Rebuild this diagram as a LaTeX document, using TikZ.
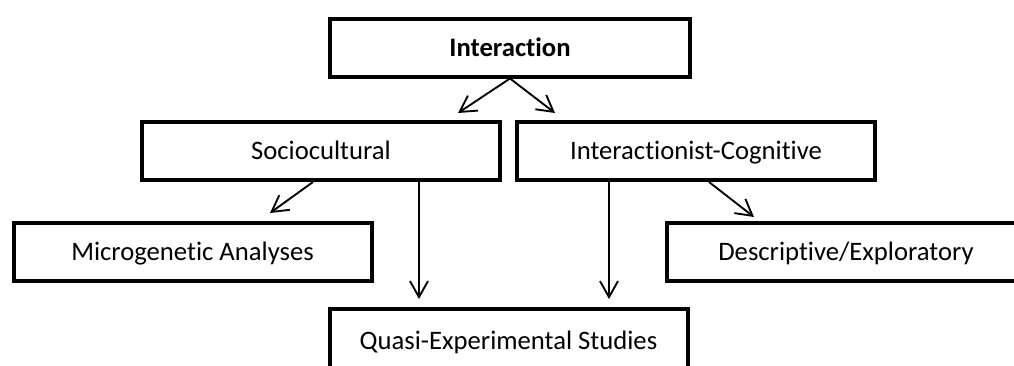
\documentclass[tikz,border=0pt]{standalone}
\usepackage{fontspec}
\setmainfont{Carlito}[RawFeature=-liga]
\usetikzlibrary{positioning,arrows.meta}

\begin{document}
\begin{tikzpicture}[x=0.75pt, y=-0.75pt,
    font=\fontsize{20}{24}\selectfont, >={Straight Barb[length=12pt,width=13.5pt]},
    box/.style={draw, line width=3pt, minimum width=268.5pt, minimum height=43.5pt, inner sep=0pt,
                text height=15pt, text depth=2.1pt},
    link/.style={->, line width=1.4pt}]
  \useasboundingbox (0,0) rectangle (1014,365);
  \node[box, minimum width=270pt, font=\fontsize{20}{24}\selectfont\bfseries] (inter) at (510,47.5) {Interaction};
  \node[box] (soc) at (321,151) {Sociocultural};
  \node[box] (ic) at (696,151) {Interactionist-Cognitive};
  \node[box] (micro) at (192.5,252) {Microgenetic Analyses};
  \node[box] (desc) at (846,252) {Descriptive/Exploratory};
  % bottom box runs off the page
  \node[box, minimum height=48pt] (quasi) at (508.5,341) {Quasi-Experimental Studies};
  % arrow ends, just short of the boxes
  \coordinate (socin) at (458,113);
  \coordinate (icin) at (555,113);
  \coordinate (microin) at (270,213);
  \coordinate (descin) at (754,217);
  \coordinate (quasil) at (419,299);
  \coordinate (quasir) at (609,299);
  \draw[link] (inter.south) -- (socin);
  \draw[link] (inter.south) -- (icin);
  \draw[link] (soc.south -| 313,0) -- (microin);
  \draw[link] (soc.south -| quasil) -- (quasil);
  \draw[link] (ic.south -| quasir) -- (quasir);
  \draw[link] (ic.south -| 709,0) -- (descin);
\end{tikzpicture}
\end{document}
